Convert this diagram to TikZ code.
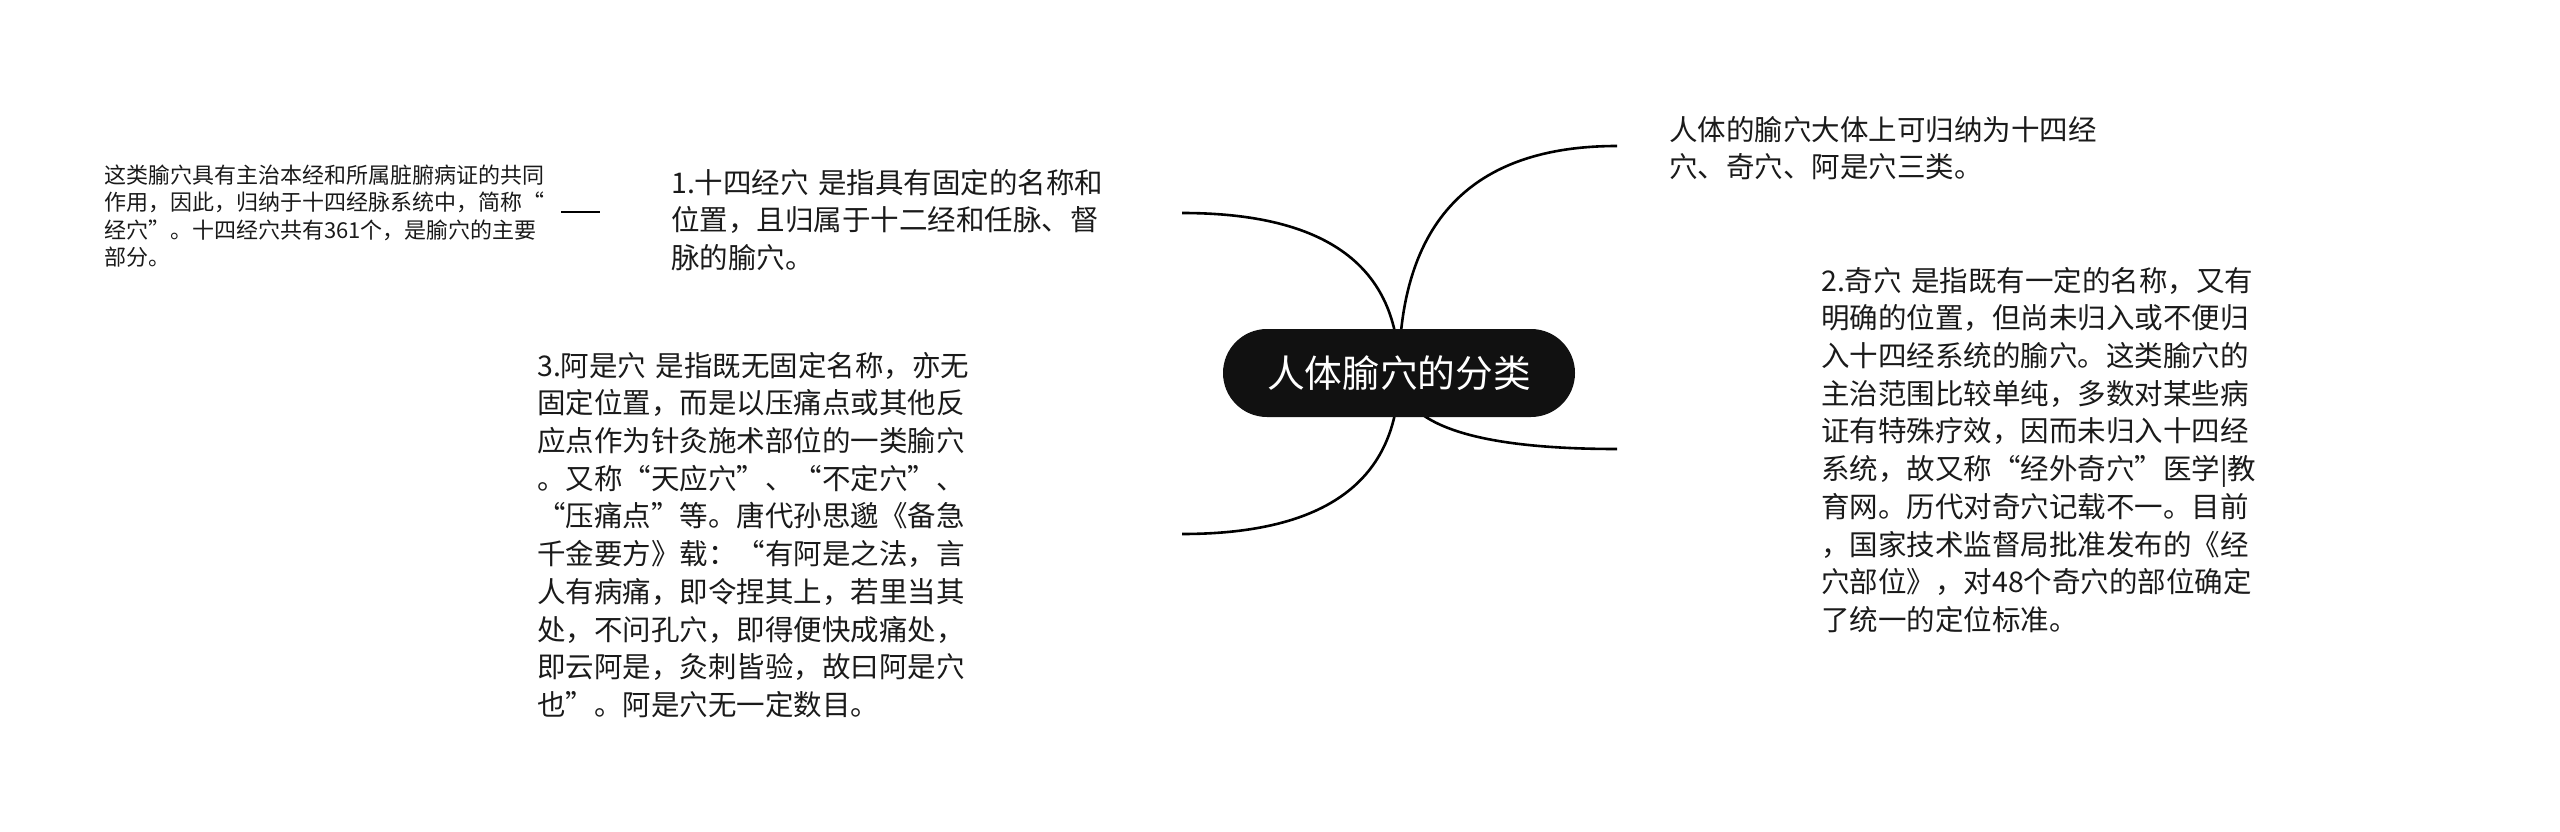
\documentclass[tikz,border=0pt]{standalone}
\usepackage{fontspec}
\newfontfamily\cjk{Noto Sans CJK SC}
\usetikzlibrary{calc,backgrounds}
\definecolor{ink}{HTML}{1A1A1A}
\definecolor{hub}{HTML}{111111}
\begin{document}
\begin{tikzpicture}[x=1pt,y=-1pt,
  txt/.style={anchor=north west, inner sep=0pt, text width=700pt, align=left, text=ink, font=\cjk\fontsize{28.5}{37.7}\selectfont},
  small/.style={txt, font=\cjk\fontsize{22}{27.6}\selectfont},
  hubnode/.style={fill=hub, text=white, rounded corners=44pt, minimum width=352pt, minimum height=88pt, inner sep=0pt, font=\cjk\fontsize{37.7}{44}\selectfont},
  conn/.style={line width=2.6pt, draw=black}]
\useasboundingbox (0,0) rectangle (2560,832);

\node[hubnode] (c) at (1399,373) {人体腧穴的分类};

\node[txt] (t0) at (1669,113.6) {\strut 人体的腧穴大体上可归纳为十四经\\穴、奇穴、阿是穴三类。};

\node[txt] (n1) at (671,166.6) {\strut 1.十四经穴 是指具有固定的名称和\\位置，且归属于十二经和任脉、督\\脉的腧穴。};

\node[txt] (n2) at (1821,264.6) {\strut 2.奇穴 是指既有一定的名称，又有\\明确的位置，但尚未归入或不便归\\入十四经系统的腧穴。这类腧穴的\\主治范围比较单纯，多数对某些病\\证有特殊疗效，因而未归入十四经\\系统，故又称“经外奇穴”医学|教\\育网。历代对奇穴记载不一。目前\\，国家技术监督局批准发布的《经\\穴部位》，对48个奇穴的部位确定\\了统一的定位标准。};

\node[txt] (n3) at (537,349.6) {\strut 3.阿是穴 是指既无固定名称，亦无\\固定位置，而是以压痛点或其他反\\应点作为针灸施术部位的一类腧穴\\。又称“天应穴”、“不定穴”、\\“压痛点”等。唐代孙思邈《备急\\千金要方》载：“有阿是之法，言\\人有病痛，即令捏其上，若里当其\\处，不问孔穴，即得便快成痛处，\\即云阿是，灸刺皆验，故曰阿是穴\\也”。阿是穴无一定数目。};

\node[small] (leaf) at (104,163.5) {\strut 这类腧穴具有主治本经和所属脏腑病证的共同\\作用，因此，归纳于十四经脉系统中，简称“\\经穴”。十四经穴共有361个，是腧穴的主要\\部分。};

\coordinate (e0) at (1617,146);
\coordinate (e1) at (1182,213);
\coordinate (e2) at (1617,449);
\coordinate (e3) at (1182,534);
\coordinate (l0) at (561,212);
\coordinate (l1) at (600,212);

\begin{scope}[on background layer]
\foreach \e in {e0,e1,e2,e3}
  \draw[conn] (c.center) .. controls ($(c.center)!2/3!(c.center |- \e)$) and ($(\e)!2/3!(c.center |- \e)$) .. (\e);
\end{scope}
\draw[conn] (l0) -- (l1);
\end{tikzpicture}
\end{document}
